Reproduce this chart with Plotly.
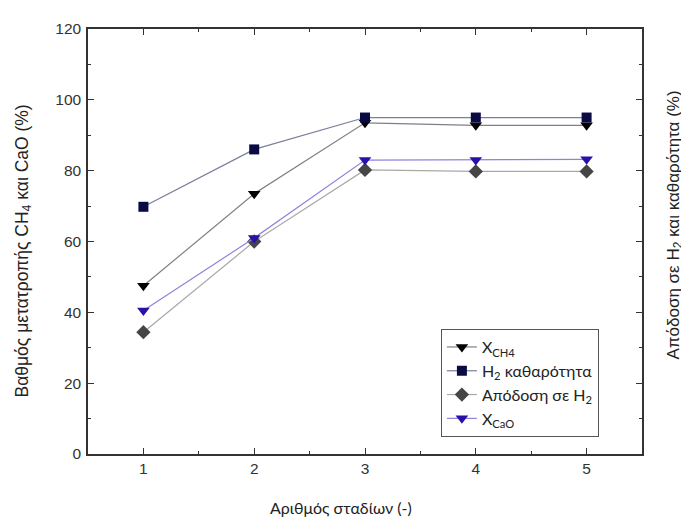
import plotly.graph_objects as go

stages = [1, 2, 3, 4, 5]
x_ch4 = [47.5, 73.5, 93.5, 92.8, 92.8]
h2_purity = [69.8, 86.0, 95.0, 95.0, 95.0]
h2_yield = [34.4, 60.0, 80.2, 79.8, 79.8]
x_cao = [40.5, 61.0, 83.0, 83.0, 83.2]

names = ["X<sub>CH4</sub>", "H<sub>2</sub> καθαρότητα", "Απόδοση σε H<sub>2</sub>", "X<sub>CaO</sub>"]
series = [x_ch4, h2_purity, h2_yield, x_cao]
marker_sym = ["triangle-down", "square", "diamond", "triangle-down"]
marker_col = ["#000000", "#0a0a45", "#454545", "#2a10a8"]
line_col = ["#808080", "#7c7c9c", "#a8a8a8", "#8c84dc"]
marker_size = [11, 10, 11, 11]

fig = go.Figure()
for n, s, ms, mc, lc, sz in zip(names, series, marker_sym, marker_col, line_col, marker_size):
    fig.add_trace(go.Scatter(
        x=stages, y=s, name=n, mode="lines+markers",
        line=dict(color=lc, width=1.2),
        marker=dict(symbol=ms, color=mc, size=sz, line=dict(width=0)),
    ))

axis_common = dict(
    showline=True, linecolor="#333333", linewidth=1.5, mirror="allticks",
    ticks="inside", ticklen=6, tickwidth=1.3, tickcolor="#333333",
    showgrid=False, zeroline=False,
    tickfont=dict(family="Liberation Sans, Arial", size=15.5, color="#333333"),
)

fig.update_xaxes(
    range=[0.5, 5.5], tickvals=stages, ticktext=[str(v) for v in stages],
    minor=dict(ticks="inside", ticklen=3, tickwidth=1.2, tickcolor="#333333", dtick=0.5, tick0=0.5),
    **axis_common,
)
fig.update_yaxes(
    range=[0, 120], dtick=20, tick0=0, ticklabelstandoff=2,
    minor=dict(ticks="inside", ticklen=3, tickwidth=1.2, tickcolor="#333333", dtick=10),
    **axis_common,
)

fig.add_annotation(
    text="Αριθμός σταδίων (-)",
    xref="paper", yref="paper", x=0.5, y=0, xshift=-24, yshift=-53,
    xanchor="center", yanchor="middle", showarrow=False,
    font=dict(family="Lato, Open Sans", size=16, color="#222222"),
)
fig.add_annotation(
    text="Βαθμός μετατροπής CH<sub>4</sub> και CaO (%)",
    xref="paper", yref="paper", x=0, y=0.5, xshift=-65, yshift=-10,
    xanchor="center", yanchor="middle", textangle=-90, showarrow=False,
    font=dict(family="Liberation Sans, Arial", size=17.5, color="#222222"),
)
fig.add_annotation(
    text="Απόδοση σε H<sub>2</sub> και καθαρότητα (%)",
    xref="paper", yref="paper", x=1.0, y=0.5, xshift=32, yshift=16,
    xanchor="center", yanchor="middle", textangle=-90, showarrow=False,
    font=dict(family="Liberation Sans, Arial", size=17, color="#222222"),
)

fig.update_layout(
    width=681, height=513,
    margin=dict(l=80, r=47, t=14, b=67),
    plot_bgcolor="white", paper_bgcolor="white",
    showlegend=True,
    legend=dict(
        x=0.637, y=0.294, xanchor="left", yanchor="top",
        bordercolor="#555555", borderwidth=1, bgcolor="white",
        font=dict(family="Lato, Open Sans", size=16, color="#222222"),
        tracegroupgap=0, itemwidth=30,
    ),
)

fig.write_html("out.html")
